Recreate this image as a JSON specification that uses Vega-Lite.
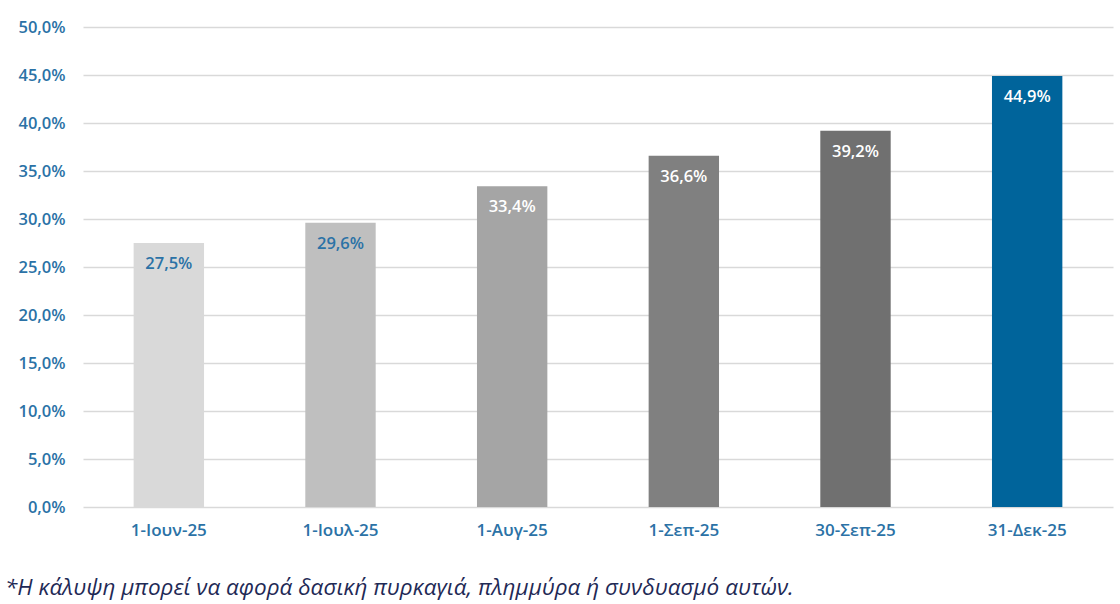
{
  "$schema": "https://vega.github.io/schema/vega-lite/v6.json",
  "width": 1030,
  "height": 480,
  "autosize": {"type": "none"},
  "padding": {"left": 83, "top": 27, "right": 7, "bottom": 97},
  "background": "white",
  "config": {
    "locale": {"number": {"decimal": ",", "thousands": ".", "grouping": [3], "currency": ["", " €"]}},
    "view": {"stroke": null},
    "font": "Open Sans"
  },
  "title": {
    "text": "*Η κάλυψη μπορεί να αφορά δασική πυρκαγιά, πλημμύρα ή συνδυασμό αυτών.",
    "orient": "bottom",
    "anchor": "start",
    "frame": "group",
    "dx": -78,
    "offset": 39,
    "font": "Open Sans",
    "fontSize": 22.5,
    "fontStyle": "italic",
    "fontWeight": "normal",
    "color": "#1f2a56"
  },
  "data": {
    "values": [
      {"date": "1-Ιουν-25", "value": 0.275},
      {"date": "1-Ιουλ-25", "value": 0.296},
      {"date": "1-Αυγ-25", "value": 0.334},
      {"date": "1-Σεπ-25", "value": 0.366},
      {"date": "30-Σεπ-25", "value": 0.392},
      {"date": "31-Δεκ-25", "value": 0.449}
    ]
  },
  "encoding": {
    "x": {
      "field": "date",
      "type": "nominal",
      "sort": null,
      "scale": {"paddingInner": 0.59, "paddingOuter": 0.295},
      "axis": {
        "title": null,
        "labelAngle": 0,
        "domain": false,
        "ticks": false,
        "labelPadding": 15,
        "labelFont": "Open Sans",
        "labelFontSize": 17,
        "labelFontWeight": 600,
        "labelColor": "#2b72a6"
      }
    },
    "y": {
      "field": "value",
      "type": "quantitative",
      "scale": {"domain": [0, 0.5], "nice": false},
      "axis": {
        "title": null,
        "values": [0, 0.05, 0.1, 0.15, 0.2, 0.25, 0.3, 0.35, 0.4, 0.45, 0.5],
        "format": ".1%",
        "domain": false,
        "ticks": false,
        "labelPadding": 18,
        "labelFont": "Open Sans",
        "labelFontSize": 16.5,
        "labelFontWeight": 600,
        "labelColor": "#2b72a6",
        "gridColor": "#d9d9d9",
        "gridWidth": 1.5
      }
    }
  },
  "layer": [
    {
      "mark": {"type": "bar"},
      "encoding": {
        "color": {
          "field": "date",
          "type": "nominal",
          "sort": null,
          "scale": {"range": ["#d9d9d9", "#bfbfbf", "#a5a5a5", "#808080", "#707070", "#00649b"]},
          "legend": null
        }
      }
    },
    {
      "mark": {"type": "text", "baseline": "top", "dy": 13, "font": "Open Sans", "fontSize": 16.5, "fontWeight": 600},
      "encoding": {
        "text": {"field": "value", "type": "quantitative", "format": ".1%"},
        "color": {
          "condition": {"test": "datum.value < 0.3", "value": "#2b72a6"},
          "value": "#ffffff"
        }
      }
    }
  ]
}
